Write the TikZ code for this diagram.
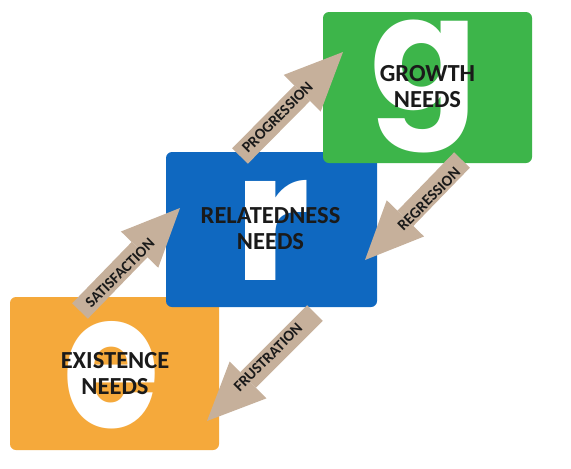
\documentclass[tikz,border=0pt]{standalone}
\usepackage{fontspec}
\setmainfont{Carlito}
\newfontfamily\ergletterfont{Poppins}
\usetikzlibrary{arrows.meta,calc}
\definecolor{ergorange}{HTML}{F5A93B}
\definecolor{ergblue}{HTML}{0F68C0}
\definecolor{erggreen}{HTML}{3DB54A}
\definecolor{arrowtan}{HTML}{C6B09B}
\definecolor{labelink}{HTML}{1A1A1A}
\begin{document}
\begin{tikzpicture}[x=1pt,y=-1pt,
  needbox/.style={rounded corners=6pt, inner sep=0pt, draw=none},
  bigletter/.style={text=white, font=\ergletterfont\bfseries, inner sep=0pt},
  needlabel/.style={align=center, font=\fontsize{24.5}{26}\selectfont\bfseries, text=labelink, inner sep=0pt},
  flow/.style={draw=arrowtan, line width=22pt, -{Triangle[length=58pt,width=52pt,line width=0pt]}},
  flowlabel/.style={font=\fontsize{15.5}{15.5}\selectfont\bfseries, text=labelink, rotate=45, inner sep=0pt}
]
\fill[white] (0,0) rectangle (571,469);
\useasboundingbox (0,0) rectangle (571,469);

% existence
\node[needbox, fill=ergorange, minimum width=209pt, minimum height=153pt] (exist) at (114.5,373.5) {};
\node[bigletter] (eltr) at (112,375) {\resizebox{96pt}{106pt}{e}};
\node[needlabel] (existtxt) at (115,373.5) {EXISTENCE\\NEEDS};

% relatedness
\node[needbox, fill=ergblue, minimum width=211pt, minimum height=155pt] (relate) at (271.5,229.5) {};
\node[bigletter] (rltr) at (272.5,230) {\resizebox*{!}{100pt}{r}};
\node[needlabel] (relatetxt) at (270.5,228.5) {RELATEDNESS\\NEEDS};

% growth
\node[needbox, fill=erggreen, minimum width=209pt, minimum height=151pt] (growth) at (427.5,87.5) {};
\node[bigletter] (gltr) at (424,86.5) {\resizebox*{!}{133pt}{g}};
\node[needlabel] (growthtxt) at (427.5,87) {GROWTH\\NEEDS};

% arrows
\coordinate (sat0) at (80,311);
\coordinate (sat1) at (180,208);
\coordinate (pro0) at (240,156);
\coordinate (pro1) at (343,52);
\coordinate (reg0) at (462,160);
\coordinate (reg1) at (365,260);
\coordinate (fru0) at (315,313);
\coordinate (fru1) at (207,421);

\draw[flow] (sat0) -- (sat1);
\draw[flow] (pro0) -- (pro1);
\draw[flow] (reg0) -- (reg1);
\draw[flow] (fru0) -- (fru1);

\node[flowlabel] (satlbl) at (120,273) {SATISFACTION};
\node[flowlabel] (prolbl) at (277.5,117.5) {PROGRESSION};
\node[flowlabel] (reglbl) at (429,199) {REGRESSION};
\node[flowlabel] (frulbl) at (268,357.5) {FRUSTRATION};
\end{tikzpicture}
\end{document}
